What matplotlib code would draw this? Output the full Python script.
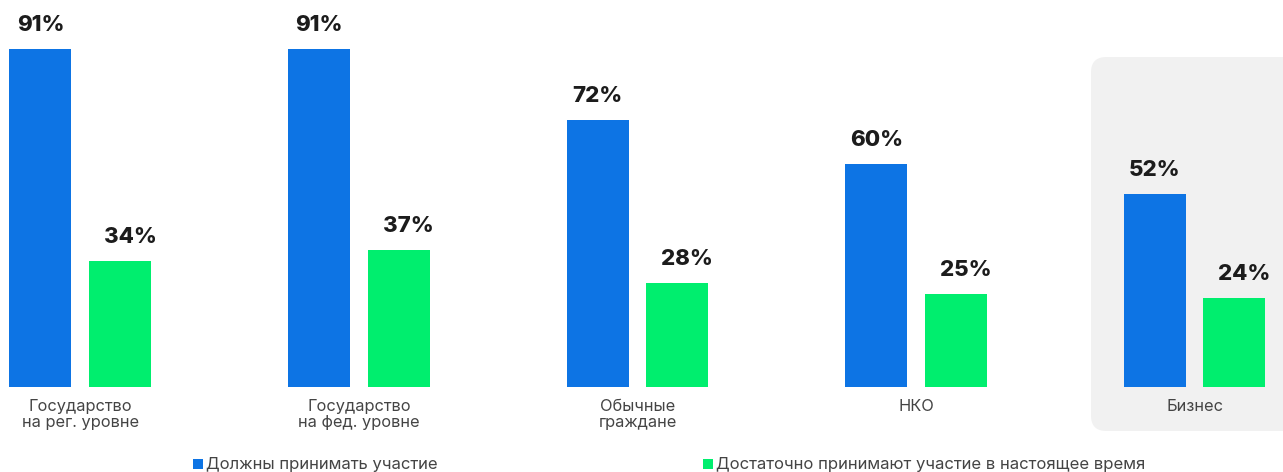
import matplotlib
matplotlib.use("Agg")
import matplotlib.pyplot as plt
from matplotlib.patches import FancyBboxPatch, Rectangle

plt.rcParams['font.family'] = ['Inter', 'DejaVu Sans']

categories = ["Государство\nна рег. уровне", "Государство\nна фед. уровне",
              "Обычные\nграждане", "НКО", "Бизнес"]
should_participate = [91, 91, 72, 60, 52]
participate_now = [34, 37, 28, 25, 24]
series_names = ["Должны принимать участие",
                "Достаточно принимают участие в настоящее время"]
colors = ["#0d74e4", "#00ee6e"]

W, H = 1283, 472
fig = plt.figure(figsize=(W / 100, H / 100), dpi=100)

# highlight panel behind the last group
panel = FancyBboxPatch((1091 / W, 1 - 431 / H), 220 / W, 374 / H,
                       boxstyle="round,pad=0,rounding_size=0.012",
                       transform=fig.transFigure, facecolor="#f1f1f1",
                       edgecolor="none", zorder=-5, mutation_aspect=W / H)
fig.patches.append(panel)

ax = fig.add_axes([0, 1 - 387 / H, 1, 387 / H], zorder=2)
ax.set_facecolor("none")
step = 278.6
ax.set_xlim(-80.5 / step, (W - 80.5) / step)
ax.set_ylim(0, 387 / 3.714)
ax.axis("off")

x = list(range(len(categories)))
bw = 62 / step
off_b, off_g = -40 / step, 39.5 / step
bars_b = ax.bar([i + off_b for i in x], should_participate, width=bw, color=colors[0], zorder=2)
bars_g = ax.bar([i + off_g for i in x], participate_now, width=bw, color=colors[1], zorder=2)

# value labels; labels of the second series sit slightly to the right
for bars, vals, dx in ((bars_b, should_participate, 0), (bars_g, participate_now, 10)):
    for b, v in zip(bars, vals):
        ax.annotate(f"{v}%", (b.get_x() + b.get_width() / 2, v),
                    xytext=(dx, 14), textcoords="offset pixels",
                    ha="center", va="bottom", fontsize=16, fontweight="heavy",
                    color="#1c1c1c", annotation_clip=False)

for i, c in zip(x, categories):
    ax.annotate(c, (i, 0), xytext=(0, -12), textcoords="offset pixels",
                ha="center", va="top", fontsize=11.8, color="#444444",
                linespacing=1.05, annotation_clip=False)

# legend
legend_items = [(193, series_names[0], colors[0]), (703, series_names[1], colors[1])]
for px, name, col in legend_items:
    fig.patches.append(Rectangle((px / W, 1 - 469 / H), 10 / W, 10 / H,
                                 transform=fig.transFigure, facecolor=col,
                                 edgecolor="none"))
    fig.text((px + 13) / W, 1 - 464 / H, name, ha="left", va="center",
             fontsize=12, color="#444444")

fig.savefig("out.png", dpi=100)
